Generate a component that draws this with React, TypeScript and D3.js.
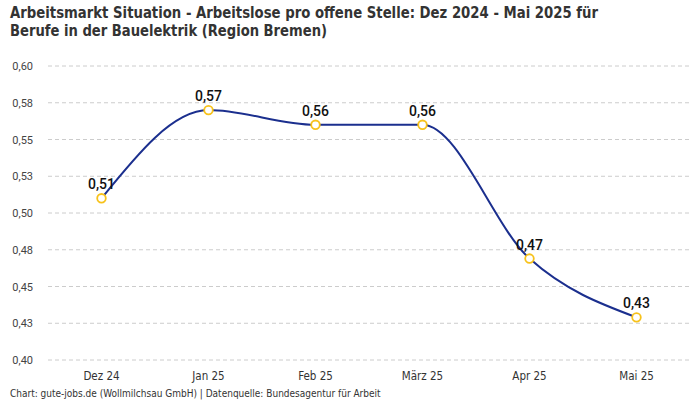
import React from "react";
import * as d3 from "d3";

const categories = ["Dez 24", "Jan 25", "Feb 25", "März 25", "Apr 25", "Mai 25"];
const values = [0.510, 0.570, 0.560, 0.560, 0.469, 0.429];
const valueLabels = ["0,51", "0,57", "0,56", "0,56", "0,47", "0,43"];
const yTicks = [0.4, 0.425, 0.45, 0.475, 0.5, 0.525, 0.55, 0.575, 0.6];
const titleLines = [
  "Arbeitsmarkt Situation - Arbeitslose pro offene Stelle: Dez 2024 - Mai 2025 für",
  "Berufe in der Bauelektrik (Region Bremen)",
];
const titleWidths = [588, 317];
const footer = "Chart: gute-jobs.de (Wollmilchsau GmbH) | Datenquelle: Bundesagentur für Arbeit";

const W = 700;
const H = 400;
const left = 48;
const right = 690;
const top = 66;
const bottom = 360;
const narrow = "'DejaVu Sans Condensed', 'Roboto', sans-serif";
const plain = "'Roboto', 'Noto Sans', sans-serif";

export default function App() {
  const x = d3.scaleBand<string>().domain(categories).range([left, right]);
  const y = d3.scaleLinear().domain([0.4, 0.6]).range([bottom, top]);
  const cx = (c: string) => (x(c) as number) + x.bandwidth() / 2;
  const line = d3
    .line<number>()
    .x((_, i) => cx(categories[i]))
    .y((d) => y(d))
    .curve(d3.curveMonotoneX);
  const fmt = (v: number) => (Math.round(v * 100 + 1e-6) / 100).toFixed(2).replace(".", ",");

  return (
    <svg width={W} height={H} style={{ position: "absolute", left: 0, top: 0, background: "#fff" }}>
      <rect width={W} height={H} fill="#fff" />
      {titleLines.map((t, i) => (
        <text
          key={i}
          x={10}
          y={18 + i * 18}
          fontFamily={narrow}
          fontWeight="bold"
          fontSize={16.5}
          fill="#333"
          textLength={titleWidths[i]}
          lengthAdjust="spacingAndGlyphs"
        >
          {t}
        </text>
      ))}
      {yTicks.map((t) => (
        <g key={t}>
          <line x1={left} x2={right} y1={y(t)} y2={y(t)} stroke="#cccccc" strokeDasharray="4,3" strokeWidth={1} />
          <text x={33} y={y(t) + 4} textAnchor="end" fontFamily={plain} fontSize={11} fill="#444">
            {fmt(t)}
          </text>
        </g>
      ))}
      {categories.map((c) => (
        <text key={c} x={cx(c)} y={380} textAnchor="middle" fontFamily={narrow} fontSize={11.5} fill="#333">
          {c}
        </text>
      ))}
      <path d={line(values) || ""} fill="none" stroke="#1b2f8e" strokeWidth={2} />
      {values.map((v, i) => (
        <g key={i}>
          <circle cx={cx(categories[i])} cy={y(v)} r={4.3} fill="#fff" stroke="#f7c21b" strokeWidth={1.8} />
          <text x={cx(categories[i])} y={y(v) - 9} textAnchor="middle" fontFamily={plain} fontSize={14} fontWeight={500} fill="#111">
            {valueLabels[i]}
          </text>
        </g>
      ))}
      <text x={10} y={397} fontFamily={narrow} fontSize={10} fill="#333">
        {footer}
      </text>
    </svg>
  );
}
